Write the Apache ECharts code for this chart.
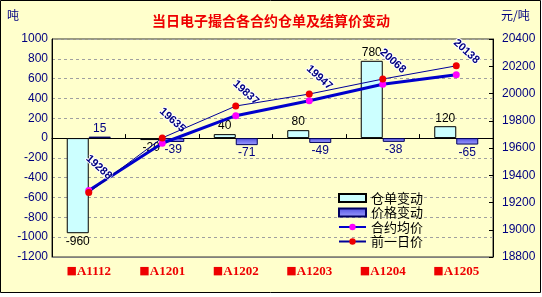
<!DOCTYPE html>
<html>
<head>
<meta charset="utf-8">
<script src="https://cdn.jsdelivr.net/npm/echarts@6/dist/echarts.min.js"></script>
<style>html,body{margin:0;padding:0;background:#fff;}#c{width:542px;height:297px;}</style>
</head>
<body>
<div id="c"></div>
<script>
var categories = ['A1112', 'A1201', 'A1202', 'A1203', 'A1204', 'A1205'];
var warrantChange = [-960, -20, 40, 80, 780, 120];
var priceChange = [15, -39, -71, -49, -38, -65];
var avgPrice = [19288, 19635, 19837, 19947, 20068, 20138];
var prevPrice = [19273, 19674, 19908, 19996, 20106, 20203];
var leftTicks = { min: -1200, max: 1000, interval: 200 };
var rightTicks = { min: 18800, max: 20400, interval: 200 };

var chart = echarts.init(document.getElementById('c'), null, { renderer: 'canvas' });
var NAVY = '#000080';
function plain(v) { return String(v); }
function barData(vals, color) {
  return vals.map(function (v) {
    return { value: v, label: { position: v >= 0 ? 'top' : 'bottom', color: color } };
  });
}
var option = {
  backgroundColor: '#ffffff',
  animation: false,
  graphic: [
    { type: 'rect', z: -10, shape: { x: 0.5, y: 0.5, width: 540, height: 292 },
      style: { fill: '#FFFFCC', stroke: '#000', lineWidth: 1 } },
    { type: 'text', left: 'center', top: 14, style: { text: '当日电子撮合各合约仓单及结算价变动', fill: '#EE0000',
      font: 'bold 14px "Noto Sans CJK SC"' } },
    { type: 'text', left: 7, top: 9, style: { text: '吨', fill: NAVY, font: '12px "Noto Sans CJK SC"' } },
    { type: 'text', left: 501, top: 9, style: { text: '元/吨', fill: NAVY, font: '12px "Noto Sans CJK SC"' } }
  ],
  grid: { left: 52, right: 49, top: 39, bottom: 40, show: true, borderColor: '#333', borderWidth: 1, backgroundColor: '#FFFFCC' },
  legend: {
    orient: 'vertical', left: 333, top: 186, itemWidth: 27, itemHeight: 8, itemGap: 0.5,
    textStyle: { fontSize: 13, lineHeight: 14, color: '#000', fontFamily: '"Noto Sans CJK SC"' },
    data: [
      { name: '仓单变动', icon: 'rect' },
      { name: '价格变动', icon: 'rect' },
      { name: '合约均价' },
      { name: '前一日价' }
    ]
  },
  xAxis: [
    { type: 'category', data: categories, position: 'bottom',
      axisLine: { onZero: false, lineStyle: { color: '#808080' } },
      axisTick: { show: false },
      axisLabel: { interval: 0, margin: 8, formatter: function (v) { return '{s|■}' + v; },
        color: '#EE0000', fontWeight: 'bold', fontSize: 13, fontFamily: '"Liberation Serif"',
        rich: { s: { fontSize: 11, fontFamily: '"DejaVu Sans"', color: '#EE0000', fontWeight: 'bold' } } } },
    { type: 'category', data: categories, position: 'top',
      axisLine: { onZero: true, onZeroAxisIndex: 0, lineStyle: { color: '#000' } },
      axisTick: { show: true, length: 4, lineStyle: { color: '#000' } },
      axisLabel: { show: false }, splitLine: { show: false } }
  ],
  yAxis: [
    { type: 'value', min: leftTicks.min, max: leftTicks.max, interval: leftTicks.interval,
      axisLine: { show: true, lineStyle: { color: '#000' } }, axisTick: { show: false },
      axisLabel: { color: NAVY, fontSize: 12, margin: 4, fontFamily: '"Liberation Sans"', formatter: plain },
      splitLine: { show: true, lineStyle: { color: '#A0A0A0', type: [3, 3] } } },
    { type: 'value', min: rightTicks.min, max: rightTicks.max, interval: rightTicks.interval,
      axisLine: { show: true, lineStyle: { color: '#000' } },
      axisTick: { show: true, inside: true, length: 4, lineStyle: { color: '#000' } },
      axisLabel: { color: NAVY, fontSize: 12, margin: 9, fontFamily: '"Liberation Sans"', formatter: plain },
      splitLine: { show: false } }
  ],
  series: [
    { name: '仓单变动', type: 'bar', xAxisIndex: 0, yAxisIndex: 0, barWidth: 22, barGap: '0%',
      data: barData(warrantChange, '#000'),
      itemStyle: { color: '#CCFFFF', borderColor: '#000', borderWidth: 1 },
      label: { show: true, distance: 2, fontSize: 12, fontFamily: '"Liberation Sans"' } },
    { name: '价格变动', type: 'bar', xAxisIndex: 0, yAxisIndex: 0, barWidth: 22, barGap: '0%',
      data: barData(priceChange, NAVY),
      itemStyle: { color: new echarts.graphic.LinearGradient(0, 0, 0, 1, [
          { offset: 0, color: '#5050E0' }, { offset: 1, color: '#A0A0FF' }]),
        borderColor: '#000060', borderWidth: 1 },
      label: { show: true, distance: 2, fontSize: 12, fontFamily: '"Liberation Sans"' } },
    { name: '合约均价', type: 'line', xAxisIndex: 0, yAxisIndex: 1, data: avgPrice, z: 5,
      symbol: 'circle', symbolSize: 7,
      lineStyle: { color: '#0000CC', width: 3 },
      itemStyle: { color: '#FF00FF' },
      label: { show: true, position: 'inside', rotate: -42, offset: [-8, -24], align: 'center', verticalAlign: 'middle',
        color: NAVY, fontWeight: 'bold', fontSize: 11, fontFamily: '"Liberation Sans"',
        textBorderColor: '#FFFFFF', textBorderWidth: 2 } },
    { name: '前一日价', type: 'line', xAxisIndex: 0, yAxisIndex: 1, data: prevPrice, z: 6,
      symbol: 'circle', symbolSize: 7,
      lineStyle: { color: '#000099', width: 1 },
      itemStyle: { color: '#EE0000' } }
  ]
};
chart.setOption(option);
</script>
</body>
</html>
